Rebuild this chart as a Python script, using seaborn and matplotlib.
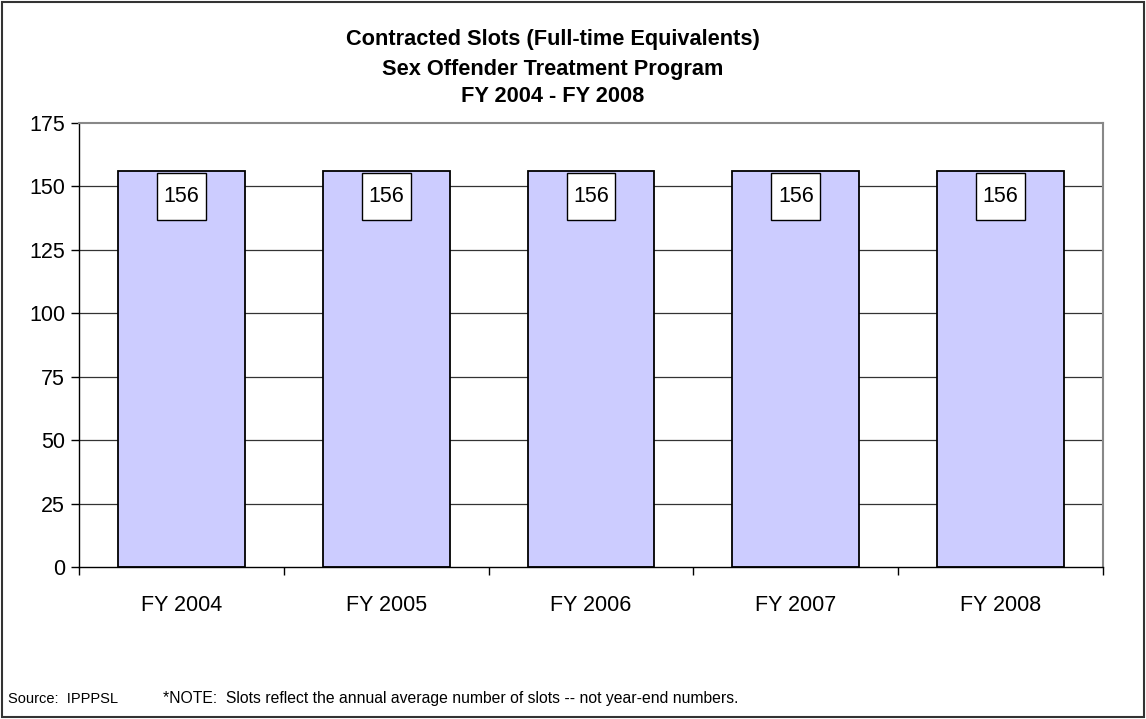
import matplotlib
matplotlib.use("Agg")
import matplotlib.pyplot as plt
import seaborn as sns
import numpy as np
import pandas as pd
from matplotlib.patches import Rectangle
from matplotlib.path import Path

years = ["FY 2004", "FY 2005", "FY 2006", "FY 2007", "FY 2008"]
slots = [156, 156, 156, 156, 156]
yticks = [0, 25, 50, 75, 100, 125, 150, 175]
title_lines = ["Contracted Slots (Full-time Equivalents)",
               "Sex Offender Treatment Program",
               "FY 2004 - FY 2008"]
source_text = "Source:  IPPPSL"
note_text = "*NOTE:  Slots reflect the annual average number of slots -- not year-end numbers."

sns.set_theme(style="white")
plt.rcParams['font.family'] = ['Liberation Sans', 'DejaVu Sans']


def label_box(x0, y0, width, height, mutation_size):
    px = 0.3 * mutation_size
    py = 0.6 * mutation_size
    x0, y0 = x0 - px, y0 - py
    x1, y1 = x0 + width + 2 * px, y0 + height + 2 * py
    return Path([(x0, y0), (x1, y0), (x1, y1), (x0, y1), (x0, y0)],
                [Path.MOVETO, Path.LINETO, Path.LINETO, Path.LINETO, Path.CLOSEPOLY])


fig = plt.figure(figsize=(11.46, 7.19), dpi=100)
fig.patch.set_facecolor("white")
fig.add_artist(Rectangle((0.002, 0.003), 0.996, 0.994, transform=fig.transFigure,
                         fill=False, edgecolor="#333333", linewidth=1.5))

ax = fig.add_axes([79/1146, 1 - 567/719, (1103-79)/1146, (567-123)/719])
df = pd.DataFrame({"year": years, "slots": slots})
sns.barplot(data=df, x="year", y="slots", color="#CCCCFF", saturation=1,
            width=0.62, edgecolor="black", linewidth=1.3, ax=ax, zorder=3)

ax.set_ylim(0, 175)
ax.set_xlim(-0.5, len(years) - 0.5)
ax.set_yticks(yticks)
for y in yticks[1:-1]:
    ax.axhline(y, color="#333333", linewidth=0.9, zorder=1)
ax.set_xlabel("")
ax.set_ylabel("")

for s in ["top", "right"]:
    ax.spines[s].set_color("#888888")
    ax.spines[s].set_linewidth(1.5)
for s in ["left", "bottom"]:
    ax.spines[s].set_color("black")
    ax.spines[s].set_linewidth(1.0)
ax.spines["bottom"].set_zorder(4)

ax.tick_params(axis="y", which="major", direction="out", length=6, width=1,
               color="black", labelsize=15.5, pad=4, left=True)
ax.tick_params(axis="x", which="major", length=0, labelsize=15.5, pad=20)
ax.set_xticks(np.arange(-0.5, len(years), 1.0), minor=True)
ax.tick_params(axis="x", which="minor", direction="out", length=6, width=1,
               color="black", bottom=True)
for lab in ax.get_xticklabels() + ax.get_yticklabels():
    lab.set_color("black")

for i, v in enumerate(slots):
    ax.annotate(f"{v}", xy=(i, v), xytext=(0, -18.5), textcoords="offset points",
                ha="center", va="center", fontsize=15.5, color="black", zorder=5,
                bbox=dict(boxstyle=label_box, facecolor="white",
                          edgecolor="black", linewidth=1.0))

ys = [40, 69, 97]
for t, y in zip(title_lines, ys):
    fig.text(553 / 1146, 1 - y / 719, t, ha="center", va="center",
             fontsize=15.7, fontweight="bold", color="black")

fig.text(8/1146, 1 - 699/719, source_text, ha="left", va="center", fontsize=10.5, color="black")
fig.text(163/1146, 1 - 699/719, note_text, ha="left", va="center", fontsize=11.3, color="black")

fig.savefig("out.png", dpi=100, facecolor="white")
